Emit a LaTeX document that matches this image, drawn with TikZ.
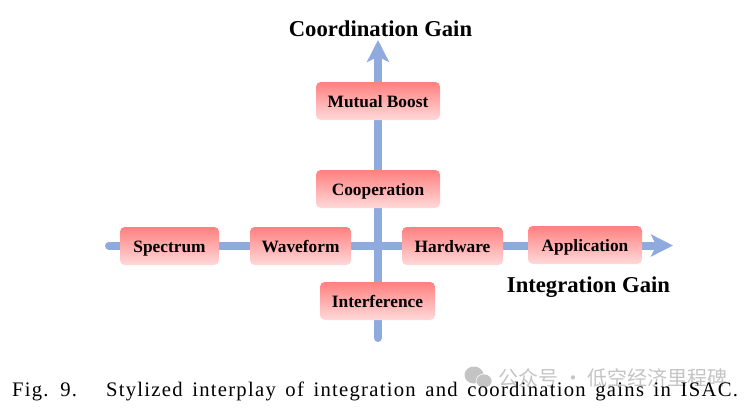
\documentclass[tikz,border=0pt]{standalone}
\usepackage{fontspec}
\setmainfont{Liberation Serif}
\newfontfamily\cjkwm{Noto Sans CJK SC}
\newfontfamily\capfont[LetterSpace=6.1,WordSpace=1.5]{Liberation Serif}
\usetikzlibrary{arrows.meta}
\definecolor{axisblue}{HTML}{8FAADC}
\definecolor{boxtop}{HTML}{FF8080}
\definecolor{boxbottom}{HTML}{FFD9D9}
\definecolor{wmgray}{HTML}{C4C4C4}
\begin{document}
\begin{tikzpicture}[x=0.75pt,y=-0.75pt,
    gainbox/.style={rounded corners=3.5pt,top color=boxtop,bottom color=boxbottom,draw=none,
      minimum height=28.5pt,inner sep=0pt,text height=10.5pt,text depth=0.5pt,
      font=\fontsize{13}{15}\selectfont\bfseries},
    gainaxis/.style={axisblue,line width=6pt,line cap=round,-{Stealth[length=16.5pt,width=16.5pt,inset=4pt]}},
    gainlabel/.style={inner sep=0pt,font=\fontsize{17}{20}\selectfont\bfseries}]
  \useasboundingbox (0,0) rectangle (750,408);
  % Axes
  \coordinate (hstart) at (109,245.5);
  \coordinate (hend) at (673,245.5);
  \coordinate (vstart) at (378,338);
  \coordinate (vend) at (378,40);
  \draw[gainaxis] (hstart) -- (hend);
  \draw[gainaxis] (vstart) -- (vend);
  % Boxes
  \node[gainbox,minimum width=74.25pt] (spectrum) at (169.5,246) {Spectrum};
  \node[gainbox,minimum width=75.75pt] (waveform) at (300.5,246) {Waveform};
  \node[gainbox,minimum width=75.75pt] (hardware) at (452.5,246) {Hardware};
  \node[gainbox,minimum width=85.5pt] (application) at (585,245) {Application};
  \node[gainbox,minimum width=86.25pt] (interference) at (377.5,301) {Interference};
  \node[gainbox,minimum width=93pt] (cooperation) at (378,189) {Cooperation};
  \node[gainbox,minimum width=93pt] (boost) at (378,101) {Mutual Boost};
  % Labels
  \node[gainlabel] (ygain) at (380.5,29) {Coordination Gain};
  \node[gainlabel] (xgain) at (588.5,287) {Integration Gain};
  % Watermark
  \fill[wmgray] (474,375) ellipse (9.5 and 8.5);
  \fill[wmgray,draw=white] (484,381) ellipse (8 and 7);
  \node[inner sep=0pt,text=wmgray,font=\fontsize{15}{18}\cjkwm] (mark) at (613,378) {公众号 · 低空经济里程碑};
  % Caption
  \node[inner sep=0pt,font=\fontsize{15.5}{18}\capfont] (caption) at (375,391.5)
    {Fig. 9.\hspace{1.4em}Stylized interplay of integration and coordination gains in ISAC.};
\end{tikzpicture}
\end{document}
